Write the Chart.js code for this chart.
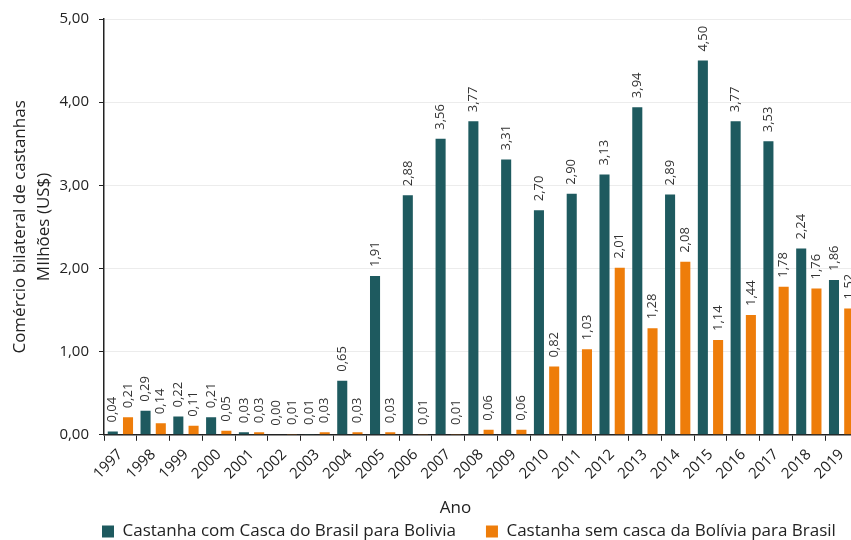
<!DOCTYPE html>
<html>
<head>
<meta charset="utf-8">
<script src="https://cdn.jsdelivr.net/npm/chart.js@4.4.1/dist/chart.umd.min.js"></script>
<style>
  html, body { margin: 0; padding: 0; background: #fff; }
  #wrap { width: 851px; height: 540px; overflow: hidden; position: relative; }
  #wrap canvas { position: absolute; left: 0; top: 0; }
</style>
</head>
<body>
<div id="wrap"><canvas id="castanhaChart" width="880" height="550" style="width:880px;height:550px"></canvas></div>
<script>
const anos = ['1997', '1998', '1999', '2000', '2001', '2002', '2003', '2004', '2005', '2006', '2007', '2008',
              '2009', '2010', '2011', '2012', '2013', '2014', '2015', '2016', '2017', '2018', '2019'];
const comCasca = [0.04, 0.29, 0.22, 0.21, 0.03, 0.00, 0.01, 0.65, 1.91, 2.88, 3.56, 3.77,
                  3.31, 2.70, 2.90, 3.13, 3.94, 2.89, 4.50, 3.77, 3.53, 2.24, 1.86];
const semCasca = [0.21, 0.14, 0.11, 0.05, 0.03, 0.01, 0.03, 0.03, 0.03, 0.01, 0.01, 0.06,
                  0.06, 0.82, 1.03, 2.01, 1.28, 2.08, 1.14, 1.44, 1.78, 1.76, 1.52];
const yTicks = [0, 1, 2, 3, 4, 5];

const fmt = v => v.toFixed(2).replace('.', ',');
const fonte = "'Open Sans', sans-serif";

// rotulos verticais em cima de cada barra
const rotulos = {
    id: 'rotulos',
    afterDatasetsDraw(chart) {
        const ctx = chart.ctx;
        ctx.save();
        ctx.font = '13px ' + fonte;
        ctx.fillStyle = '#333';
        ctx.textAlign = 'left';
        ctx.textBaseline = 'middle';
        chart.data.datasets.forEach((ds, i) => {
            chart.getDatasetMeta(i).data.forEach((bar, j) => {
                ctx.save();
                ctx.translate(bar.x, bar.y - 9);
                ctx.rotate(-Math.PI / 2);
                ctx.fillText(fmt(ds.data[j]), 0, 0);
                ctx.restore();
            });
        });
        ctx.restore();
    }
};

// legenda alinhada com o eixo y
const legendaShift = {
    id: 'legendaShift',
    afterLayout(chart) {
        chart.legend.left += 72;
        chart.legend.right += 72;
    }
};

new Chart(document.getElementById('castanhaChart'), {
    type: 'bar',
    data: {
        labels: anos,
        datasets: [{
            label: 'Castanha com Casca do Brasil para Bolivia',
            data: comCasca,
            backgroundColor: '#1E5A5F',
            categoryPercentage: 0.93,
            barPercentage: 0.66
        }, {
            label: 'Castanha sem casca da Bolívia para Brasil',
            data: semCasca,
            backgroundColor: '#EE7D0A',
            categoryPercentage: 0.93,
            barPercentage: 0.66
        }]
    },
    options: {
        responsive: false, animation: false,
        layout: { padding: { top: 18, left: 0, right: 22, bottom: 0 } },
        plugins: {
            legend: {
                position: 'bottom', align: 'start',
                labels: { boxWidth: 12, boxHeight: 12, padding: 30, color: '#222',
                          font: { family: fonte, size: 17 } }
            },
            tooltip: { enabled: false }
        },
        scales: {
            x: {
                grid: { drawOnChartArea: false, tickColor: '#222', tickLength: 6 },
                border: { color: '#222', width: 1.5 },
                ticks: { minRotation: 45, maxRotation: 45, color: '#222', padding: 5,
                         font: { family: fonte, size: 15 } },
                title: { display: true, text: 'Ano\u2003\u2003\u2003', color: '#222',
                         font: { family: fonte, size: 17 }, padding: { top: 0, bottom: -25 } },
                afterFit(scale) { scale.height = 58.2; }
            },
            y: {
                min: 0, max: 5,
                grid: { color: '#ececec', tickColor: '#222', tickLength: 5 },
                border: { color: '#222', width: 1.5 },
                afterBuildTicks(scale) { scale.ticks = yTicks.map(v => ({ value: v })); },
                ticks: { color: '#222', padding: 10, font: { family: fonte, size: 15 },
                         callback: v => fmt(v) },
                title: { display: true, text: ['Comércio bilateral de castanhas', 'MIlhões (US$)'],
                         color: '#222', font: { family: fonte, size: 17, lineHeight: 1.4 },
                         padding: { top: 8, bottom: 0 } },
                afterFit(scale) { scale.width = 104; }
            }
        }
    },
    plugins: [rotulos, legendaShift]
});
</script>
</body>
</html>
